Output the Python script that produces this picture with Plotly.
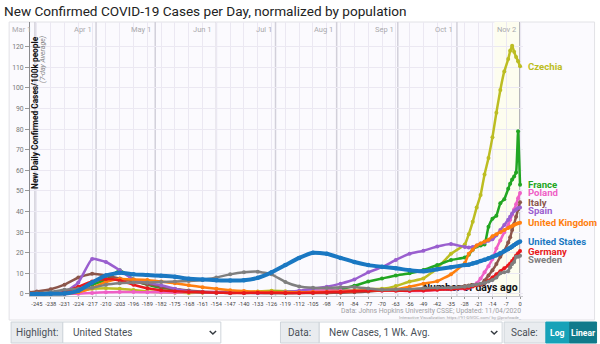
import plotly.graph_objects as go

# ---------------- data ----------------
days = [-249, -245, -238, -231, -224, -217, -210, -203, -196, -189,
        -182, -175, -168, -161, -154, -147, -140, -133, -126, -119,
        -112, -105, -98, -91, -84, -77, -70, -63, -56, -49,
        -42, -35, -28, -26, -24, -22, -20, -18, -16, -14,
        -12, -10, -8, -6, -5, -4, -3, -2, -1, 0]

czechia = [0.0, 0.0, 0.0, 0.1, 1.0, 2.5, 2.8, 2.5, 1.9, 1.2,
           0.8, 0.6, 0.5, 0.6, 0.6, 0.5, 0.7, 1.2, 1.5, 1.3,
           1.0, 1.3, 1.6, 1.8, 1.9, 2.3, 2.5, 3.8, 6.0, 7.5,
           12.5, 19.5, 24.0, 29.0, 35.0, 42.0, 48.0, 58.0, 66.0, 76.0,
           88.0, 99.0, 108.0, 114.0, 118.0, 120.5, 117.5, 115.0, 113.0, 110.5]
france = [0.0, 0.0, 0.05, 0.3, 1.8, 4.5, 6.8, 11.5, 7.0, 4.5,
          3.0, 2.2, 1.3, 0.8, 0.6, 0.7, 0.7, 0.8, 0.9, 0.9,
          1.2, 1.3, 1.7, 2.3, 4.0, 6.0, 7.5, 9.0, 10.0, 11.6,
          14.0, 16.5, 17.7, 19.0, 21.5, 23.0, 23.5, 24.0, 32.6, 36.5,
          38.0, 44.0, 46.0, 51.0, 53.5, 55.5, 57.0, 59.0, 79.0, 53.0]
poland = [0.0, 0.0, 0.0, 0.0, 0.1, 0.5, 0.8, 0.9, 0.9, 0.8,
          0.8, 0.7, 0.9, 1.0, 1.0, 1.0, 0.8, 0.7, 0.8, 0.9,
          1.1, 1.5, 1.8, 1.6, 1.6, 1.5, 1.6, 1.7, 1.4, 1.5,
          2.0, 2.3, 2.5, 3.0, 4.0, 5.2, 7.5, 10.5, 13.5, 17.0,
          22.0, 26.0, 30.0, 33.5, 36.0, 38.5, 41.0, 43.5, 46.5, 49.0]
italy = [0.8, 1.2, 2.3, 4.5, 8.0, 9.8, 9.0, 7.5, 6.0, 4.8,
         3.5, 2.4, 1.7, 1.1, 0.8, 0.6, 0.5, 0.4, 0.35, 0.35,
         0.4, 0.45, 0.5, 0.6, 0.8, 1.2, 1.8, 2.1, 2.3, 2.5,
         2.6, 3.0, 3.8, 4.1, 4.3, 4.5, 4.8, 6.5, 9.0, 11.5,
         14.5, 18.0, 21.0, 25.0, 27.5, 31.0, 34.0, 37.5, 41.0, 44.5]
spain = [0.0, 0.0, 0.1, 0.8, 5.5, 17.0, 15.5, 11.5, 7.0, 5.5,
         4.2, 2.5, 1.2, 0.8, 0.6, 0.5, 0.6, 0.5, 0.6, 0.9,
         1.5, 2.5, 3.5, 5.0, 7.0, 10.5, 13.0, 16.5, 19.5, 21.0,
         23.0, 24.2, 22.8, 22.6, 22.8, 23.5, 24.5, 25.0, 25.8, 26.5,
         28.5, 31.0, 33.5, 36.0, 37.5, 39.0, 40.2, 41.0, 41.7, 42.0]
united_kingdom = [0.0, 0.0, 0.0, 0.1, 0.8, 3.0, 5.8, 7.2, 7.0, 6.8,
                  6.0, 5.2, 4.2, 3.2, 2.5, 1.8, 1.4, 1.1, 0.9, 0.8,
                  0.8, 0.9, 1.0, 1.1, 1.4, 1.7, 1.8, 2.2, 3.5, 5.0,
                  6.2, 9.5, 15.0, 19.5, 21.5, 23.5, 24.5, 25.5, 26.3, 28.0,
                  29.0, 30.0, 31.0, 32.0, 32.5, 33.0, 33.5, 34.0, 34.3, 34.6]
germany = [0.0, 0.05, 0.2, 0.9, 3.5, 6.0, 7.2, 6.5, 4.5, 2.8,
           1.8, 1.3, 1.0, 0.8, 0.6, 0.5, 0.5, 0.6, 0.6, 0.5,
           0.5, 0.6, 0.8, 1.0, 1.3, 1.6, 1.7, 1.6, 1.6, 1.7,
           2.0, 2.3, 2.7, 3.0, 3.6, 4.2, 4.6, 5.2, 6.5, 8.0,
           9.5, 11.0, 12.5, 13.8, 14.8, 16.0, 17.2, 18.6, 19.8, 20.8]
sweden = [0.0, 0.3, 1.0, 2.0, 2.5, 3.0, 4.5, 5.2, 5.5, 5.6,
          5.8, 6.0, 6.3, 6.8, 8.0, 9.5, 10.5, 10.8, 9.5, 5.8,
          3.6, 3.0, 2.9, 3.2, 3.4, 2.6, 2.0, 2.2, 2.3, 2.8,
          3.0, 3.0, 3.5, 3.8, 4.2, 4.6, 5.0, 5.3, 6.0, 6.8,
          8.0, 10.0, 10.5, 11.0, 13.0, 14.5, 15.5, 18.0, 18.0, 18.5]
united_states = [0.0, 0.0, 0.05, 0.2, 1.5, 5.5, 9.0, 10.3, 9.5, 9.2,
                 8.8, 8.3, 7.4, 7.0, 6.7, 6.5, 6.6, 7.8, 10.5, 14.0,
                 17.5, 20.0, 19.5, 17.5, 15.5, 14.0, 13.2, 12.5, 11.5, 11.0,
                 12.0, 13.0, 14.0, 14.2, 14.8, 15.3, 16.0, 16.6, 17.3, 18.0,
                 18.8, 19.7, 20.7, 21.8, 22.4, 23.0, 23.7, 24.4, 25.0, 25.5]

country_names = ["Czechia", "France", "Poland", "Italy", "Spain",
                 "United Kingdom", "Germany", "Sweden", "United States"]
country_values = [czechia, france, poland, italy, spain,
                  united_kingdom, germany, sweden, united_states]
country_colors = ["#bcbd22", "#22a622", "#ef5fc6", "#8c564b", "#9a5fcf",
                  "#ff7f0e", "#e8191c", "#7f7f7f", "#1a78c2"]
highlight = "United States"

x_ticks = list(range(-245, 1, 7))
y_ticks = list(range(0, 121, 10))
month_days = [-246, -215, -185, -154, -124, -93, -62, -32]
month_labels = ["Mar 1", "Apr 1", "May 1", "Jun 1", "Jul 1", "Aug 1", "Sep 1", "Oct 1"]
last_label = "Nov 2"
recent_window = [-13, 0]
x_caption = "Number of days ago"

# ---------------- geometry helpers ----------------
W, H = 600, 344
L, R, T, B = 27, 523, 22, 296
X_RANGE = [-248.5, 1.5]
Y_RANGE = [-1, 132]


def px(xpix):
    return (xpix - L) / (R - L)


def py(ypix):
    return (B - ypix) / (B - T)


FONT = "Roboto"
fig = go.Figure()

# caption drawn first so that the lines pass over it
fig.add_trace(go.Scatter(
    x=[-1.2], y=[2.6], mode="text", text=[x_caption], textposition="middle left",
    textfont=dict(family=FONT, size=10.5, color="#111", weight="bold"),
    hoverinfo="skip", showlegend=False,
))

for name, vals, col in zip(country_names, country_values, country_colors):
    hl = name == highlight
    fig.add_trace(go.Scatter(
        x=days, y=vals, mode="lines+markers", name=name,
        line=dict(color=col, width=4 if hl else 2.5, shape="spline", smoothing=0.4),
        marker=dict(color=col, size=4.5 if hl else 4),
        hoverinfo="skip", showlegend=False,
    ))

shapes = []
# chart box
shapes.append(dict(type="rect", xref="paper", yref="paper",
                   x0=px(6), x1=px(595), y0=py(320), y1=py(22),
                   fillcolor="#fbfafe", line=dict(color="#e2e2e6", width=1), layer="below"))
# recent window highlight
shapes.append(dict(type="rect", xref="x", yref="paper", x0=recent_window[0], x1=recent_window[1],
                   y0=0, y1=1, fillcolor="#fdfdef", line=dict(width=0), layer="below"))
# month lines
for d in month_days:
    shapes.append(dict(type="line", xref="x", yref="paper", x0=d, x1=d, y0=0, y1=1,
                       line=dict(color="#d2d0da", width=1.5), layer="between"))
shapes.append(dict(type="line", xref="x", yref="paper", x0=0, x1=0, y0=0, y1=1,
                   line=dict(color="#b4b4b8", width=2), layer="between"))

annotations = []
# month labels
for d, lab in zip(month_days + [0], month_labels + [last_label]):
    annotations.append(dict(x=d, y=py(29), xref="x", yref="paper", text=lab, showarrow=False,
                            xanchor="right", yanchor="middle", xshift=-2,
                            font=dict(family=FONT, size=7.5, color="#a9a9ad")))

# y axis titles
annotations.append(dict(x=px(32.5), y=py(34), xref="paper", yref="paper", textangle=-90,
                        text="New Daily Confirmed Cases/100k people", showarrow=False,
                        xanchor="center", yanchor="top",
                        font=dict(family=FONT, size=8.3, color="#111", weight="bold")))
annotations.append(dict(x=px(40.5), y=py(34), xref="paper", yref="paper", textangle=-90,
                        text="(7-day Average)", showarrow=False, xanchor="center", yanchor="top",
                        font=dict(family=FONT, size=7, color="#888", style="italic")))

# end labels with simple collision avoidance
unit_px = (B - T) / (Y_RANGE[1] - Y_RANGE[0])
gap = 8.2 / unit_px
order = sorted(range(len(country_names)), key=lambda i: -country_values[i][-1])
prev = None
for i in order:
    v = country_values[i][-1]
    if prev is not None and v > prev - gap:
        v = prev - gap
    prev = v
    annotations.append(dict(x=0, y=v, xref="x", yref="y", text=country_names[i], showarrow=False,
                            xanchor="left", yanchor="middle", xshift=6,
                            font=dict(family=FONT, size=9.6, color=country_colors[i], weight="bold")))

# source
annotations.append(dict(x=px(523), y=py(311), xref="paper", yref="paper",
                        text="Data: Johns Hopkins University CSSE; Updated: 11/04/2020",
                        showarrow=False, xanchor="right", yanchor="middle",
                        font=dict(family=FONT, size=6.8, color="#a0a0a4")))
annotations.append(dict(x=px(523), y=py(317), xref="paper", yref="paper",
                        text="Interactive Visualization: https://91-DIVOC.com/ by @profwade_",
                        showarrow=False, xanchor="right", yanchor="middle",
                        font=dict(family=FONT, size=4.3, color="#a0a0a4")))

# ---------------- controls row ----------------
cy0, cy1 = 322, 343
cmid = (cy0 + cy1) / 2


def box(x0, x1, fill, line="#ced4da"):
    shapes.append(dict(type="rect", xref="paper", yref="paper", x0=px(x0), x1=px(x1),
                       y0=py(cy1), y1=py(cy0), fillcolor=fill,
                       line=dict(color=line, width=1), layer="above"))


def text(xp, s, anchor="center", color="#495057", size=10, bold=False):
    annotations.append(dict(x=px(xp), y=py(cmid), xref="paper", yref="paper", text=s,
                            showarrow=False, xanchor=anchor, yanchor="middle",
                            font=dict(family=FONT, size=size, color=color,
                                      weight="bold" if bold else "normal")))


def chevron(cx):
    path = "M {:.5f},{:.5f} L {:.5f},{:.5f} L {:.5f},{:.5f}".format(
        px(cx - 3.2), py(cmid - 1.6), px(cx), py(cmid + 1.6), px(cx + 3.2), py(cmid - 1.6))
    shapes.append(dict(type="path", xref="paper", yref="paper", path=path,
                       line=dict(color="#343a40", width=1.4), layer="above"))


box(8, 60, "#e9ecef")
text(34, "Highlight:")
box(60, 219, "#ffffff")
text(68, "United States", anchor="left")
chevron(211)

box(279, 318, "#e9ecef")
text(298.5, "Data:")
box(318, 502, "#ffffff")
text(326, "New Cases, 1 Wk. Avg.", anchor="left")
chevron(494)

box(504, 546, "#e9ecef")
text(525, "Scale:")
box(546, 570, "#17a2b8", line="#17a2b8")
text(558, "Log", color="#ffffff", bold=True, size=8.6)
box(570, 597, "#117a8b", line="#117a8b")
text(583.5, "Linear", color="#ffffff", bold=True, size=8.6)

fig.update_layout(
    width=W, height=H,
    margin=dict(l=L, r=W - R, t=T, b=H - B),
    paper_bgcolor="#ffffff", plot_bgcolor="rgba(0,0,0,0)",
    title=dict(text="New Confirmed COVID-19 Cases per Day, normalized by population",
               x=4 / W, xanchor="left", y=1 - 11 / H, yanchor="middle",
               font=dict(family=FONT, size=13.6, color="#222")),
    xaxis=dict(range=X_RANGE, tickmode="array", tickvals=x_ticks,
               ticktext=[str(t) for t in x_ticks], tickangle=0, showgrid=True, gridcolor="#ebe8f2",
               gridwidth=1, zeroline=False, showline=True, linecolor="#c8c8cc",
               ticks="outside", ticklen=2, tickcolor="#999",
               tickfont=dict(family=FONT, size=5.7, color="#444")),
    yaxis=dict(range=Y_RANGE, tickmode="array", tickvals=y_ticks, showgrid=True,
               gridcolor="#ebe8f2", gridwidth=1, zeroline=False, showline=True,
               linecolor="#8a8a8e", ticks="outside", ticklen=4, tickcolor="#999",
               tickfont=dict(family=FONT, size=6.8, color="#777")),
    shapes=shapes, annotations=annotations,
    font=dict(family=FONT),
)

fig.write_html("out.html")
